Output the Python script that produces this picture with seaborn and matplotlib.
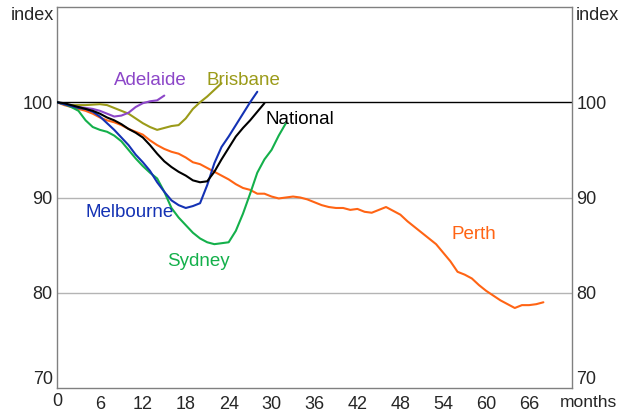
import numpy as np
import pandas as pd
import matplotlib
matplotlib.use('Agg')
import matplotlib.pyplot as plt
import seaborn as sns

# index values by month since peak
national = [100, 99.9, 99.7, 99.5, 99.3, 99.1, 98.8, 98.4, 98.1, 97.7, 97.2, 96.8,
            96.3, 95.5, 94.6, 93.8, 93.2, 92.7, 92.3, 91.8, 91.6, 91.7, 92.7, 94.0,
            95.2, 96.4, 97.3, 98.1, 99.0, 99.9]
melbourne = [100, 99.8, 99.6, 99.4, 99.3, 99.0, 98.5, 97.8, 97.1, 96.3, 95.5, 94.5,
             93.7, 92.8, 91.6, 90.6, 89.7, 89.2, 88.9, 89.1, 89.4, 91.3, 93.6, 95.3,
             96.4, 97.6, 98.8, 100.0, 101.1]
sydney = [100, 99.8, 99.5, 99.1, 98.1, 97.4, 97.1, 96.9, 96.5, 95.9, 95.0, 94.1,
          93.3, 92.6, 92.0, 90.6, 88.9, 87.9, 87.1, 86.3, 85.7, 85.3, 85.1, 85.2,
          85.3, 86.5, 88.3, 90.4, 92.6, 94.0, 95.0, 96.5, 97.8]
adelaide = [100, 99.8, 99.6, 99.5, 99.4, 99.3, 99.1, 98.8, 98.5, 98.6, 98.9, 99.5,
            99.9, 100.1, 100.2, 100.7]
brisbane = [100, 99.8, 99.7, 99.7, 99.7, 99.75, 99.8, 99.7, 99.4, 99.1, 98.8, 98.3,
            97.8, 97.4, 97.1, 97.3, 97.5, 97.6, 98.3, 99.3, 100.0, 100.6, 101.3, 102.0]
perth = [100, 99.7, 99.5, 99.3, 99.1, 98.8, 98.4, 98.1, 97.9, 97.6, 97.2, 96.9,
         96.6, 96.0, 95.5, 95.1, 94.8, 94.6, 94.2, 93.7, 93.5, 93.1, 92.7, 92.3,
         91.9, 91.4, 91.0, 90.8, 90.4, 90.4, 90.1, 89.9, 90.0, 90.1, 90.0, 89.8,
         89.5, 89.2, 89.0, 88.9, 88.9, 88.7, 88.8, 88.5, 88.4, 88.7, 89.0, 88.6,
         88.2, 87.5, 86.9, 86.3, 85.7, 85.1, 84.2, 83.3, 82.2, 81.9, 81.5, 80.8,
         80.2, 79.7, 79.2, 78.8, 78.4, 78.7, 78.7, 78.8, 79.0]

series = {'Perth': perth, 'Brisbane': brisbane, 'Adelaide': adelaide,
          'Sydney': sydney, 'Melbourne': melbourne, 'National': national}
colours = {'National': '#000000', 'Melbourne': '#1432b4', 'Sydney': '#14b04b',
           'Adelaide': '#8c46c8', 'Brisbane': '#9b9b19', 'Perth': '#ff6414'}

rows = []
for name, vals in series.items():
    for m, v in enumerate(vals):
        rows.append((name, m, v))
df = pd.DataFrame(rows, columns=['city', 'month', 'index'])

sns.set_style('white')
plt.rcParams['font.family'] = ['Liberation Sans', 'DejaVu Sans']

fig = plt.figure(figsize=(6.22, 4.16), dpi=100)
ax = fig.add_axes([57/622, 28/416, 515/622, 381/416])

ax.axhline(80, color='#b4b4b4', lw=1, zorder=1)
ax.axhline(90, color='#b4b4b4', lw=1, zorder=1)
ax.axhline(100, color='black', lw=1, zorder=1)

sns.lineplot(data=df, x='month', y='index', hue='city', palette=colours,
             lw=1.5, legend=False, ax=ax, zorder=3)

ax.set_xlim(0, 72)
ax.set_ylim(70, 110)
ax.set_xticks(range(0, 72, 6))
ax.set_xticklabels([str(t) for t in range(0, 72, 6)], fontsize=13)
ax.set_yticks([70, 80, 90, 100])
ax.set_yticklabels(['70', '80', '90', '100'], fontsize=13)
ax.tick_params(axis='x', direction='in', length=5, color='#808080', pad=6)
ax.tick_params(axis='y', length=0, pad=3, labelright=True, right=True)
# the zero label sits a bit higher than the rest
ax.get_xticklabels()[0].set_y(0.01)
# bottom 70 labels sit above the axis line
for t in ax.yaxis.get_majorticklabels():
    if t.get_text() == '70':
        t.set_va('bottom')
for tick in ax.yaxis.get_major_ticks()[:1]:
    tick.label1.set_va('bottom')
    tick.label2.set_va('bottom')
ax.set_xlabel('')
ax.set_ylabel('')
for s in ax.spines.values():
    s.set_color('#808080')
    s.set_linewidth(1)

ax.text(-0.006, 0.979, 'index', transform=ax.transAxes, ha='right', va='center', fontsize=13)
ax.text(1.008, 0.979, 'index', transform=ax.transAxes, ha='left', va='center', fontsize=13)
ax.text(0.976, -0.038, 'months', transform=ax.transAxes, ha='left', va='center', fontsize=12.5)

labels = [('Adelaide', 13, 102.3), ('Brisbane', 26, 102.3), ('National', 33.9, 98.2),
          ('Melbourne', 10.2, 88.4), ('Sydney', 19.8, 83.3), ('Perth', 58.3, 86.1)]
for name, x, y in labels:
    ax.text(x, y, name, color=colours[name], fontsize=13.5, ha='center', va='center')

fig.savefig('out.png', dpi=100)
